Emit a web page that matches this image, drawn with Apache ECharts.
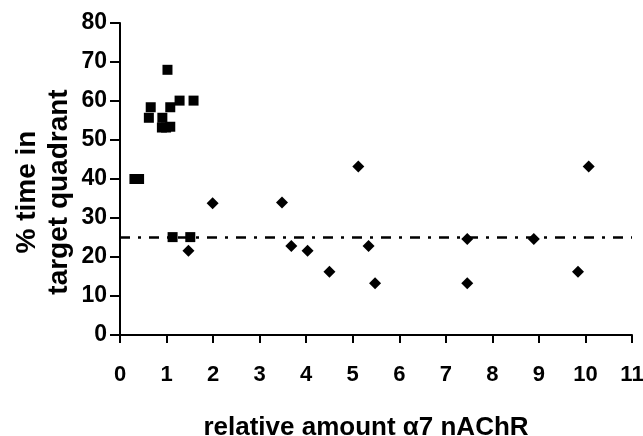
<!DOCTYPE html>
<html>
<head>
<meta charset="utf-8">
<script src="https://cdn.jsdelivr.net/npm/echarts@6/dist/echarts.min.js"></script>
<style>
html,body{margin:0;padding:0;background:#fff;}
#chart{width:643px;height:436px;}
</style>
</head>
<body>
<div id="chart"></div>
<script>
// Square markers
var squaresX = [0.31, 0.41, 0.62, 0.66, 0.90, 0.99, 1.08, 0.91, 1.08, 1.02, 1.28, 1.58, 1.13, 1.51];
var squaresY = [40, 40, 55.7, 58.4, 53.2, 53.2, 53.4, 55.7, 58.4, 68, 60.1, 60.1, 25.1, 25.1];
// Diamond markers
var diamondsX = [1.47, 1.99, 3.48, 3.68, 4.03, 4.50, 5.12, 5.34, 5.48, 7.46, 7.46, 8.89, 9.84, 10.07];
var diamondsY = [21.6, 33.8, 34.0, 22.8, 21.6, 16.2, 43.2, 22.8, 13.3, 24.6, 13.3, 24.6, 16.2, 43.2];
// Chance level reference line
var chanceX = [0, 11];
var chanceY = [25, 25];
var xTicks = [0, 1, 2, 3, 4, 5, 6, 7, 8, 9, 10, 11];
var yTicks = [0, 10, 20, 30, 40, 50, 60, 70, 80];

function zip(a, b) { return a.map(function (v, i) { return [v, b[i]]; }); }

var font = '"Liberation Sans", Arial, sans-serif';
var chart = echarts.init(document.getElementById('chart'), null, {renderer: 'canvas'});
chart.setOption({
  animation: false,
  backgroundColor: '#fff',
  grid: {left: 120, right: 11, top: 23, bottom: 101, containLabel: false, outerBoundsMode: 'none'},
  xAxis: {
    type: 'value', min: xTicks[0], max: xTicks[xTicks.length - 1], interval: 1,
    name: 'relative amount \u03b17 nAChR', nameLocation: 'middle', nameGap: 80, nameMoveOverlap: false,
    nameTextStyle: {fontFamily: font, fontWeight: 'bold', fontSize: 26, color: '#000', padding: [0, 20, 0, 0]},
    axisLine: {show: true, onZero: false, lineStyle: {color: '#000', width: 2}},
    axisTick: {show: true, length: 8, lineStyle: {color: '#000', width: 2}},
    axisLabel: {margin: 29, fontFamily: font, fontWeight: 'bold', fontSize: 22, color: '#000'},
    splitLine: {show: false}
  },
  yAxis: {
    type: 'value', min: yTicks[0], max: yTicks[yTicks.length - 1], interval: 10,
    name: '% time in\ntarget quadrant', nameLocation: 'middle', nameRotate: 90, nameGap: 45, nameMoveOverlap: false,
    nameTextStyle: {fontFamily: font, fontWeight: 'bold', fontSize: 28, color: '#000', lineHeight: 32, padding: [0, 26, 0, 0]},
    axisLine: {show: true, onZero: false, lineStyle: {color: '#000', width: 2}},
    axisTick: {show: true, length: 10, lineStyle: {color: '#000', width: 2}},
    axisLabel: {margin: 13, fontFamily: font, fontWeight: 'bold', fontSize: 23, color: '#000'},
    splitLine: {show: false}
  },
  series: [
    {
      type: 'line', data: zip(chanceX, chanceY), symbol: 'none', silent: true,
      lineStyle: {color: '#000', width: 2.5, type: [10, 8, 3, 8]}, z: 1
    },
    {
      type: 'scatter', data: zip(squaresX, squaresY), symbol: 'rect', symbolSize: 10,
      itemStyle: {color: '#000', opacity: 1}, z: 3
    },
    {
      type: 'scatter', data: zip(diamondsX, diamondsY), symbol: 'diamond', symbolSize: 12,
      itemStyle: {color: '#000', opacity: 1}, z: 3
    }
  ]
});
</script>
</body>
</html>
